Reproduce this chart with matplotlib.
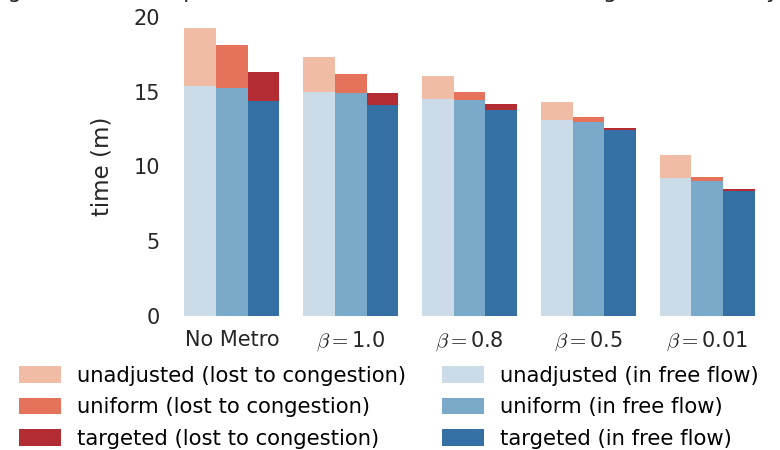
import matplotlib.pyplot as plt
import numpy as np

plt.rcParams['font.family'] = 'DejaVu Sans'
plt.rcParams['mathtext.fontset'] = 'cm'

groups = ['No Metro', r'$\beta=$1.0', r'$\beta=$0.8', r'$\beta=$0.5', r'$\beta=$0.01']
schemes = ['unadjusted', 'uniform', 'targeted']

# total travel time (free flow + lost to congestion), minutes
total = {
    'unadjusted': [19.3, 17.3, 16.05, 14.35, 10.75],
    'uniform':    [18.1, 16.2, 15.0, 13.3, 9.3],
    'targeted':   [16.3, 14.95, 14.2, 12.55, 8.5],
}
# time in free flow, minutes
free = {
    'unadjusted': [15.4, 15.0, 14.5, 13.1, 9.2],
    'uniform':    [15.25, 14.9, 14.45, 13.0, 9.05],
    'targeted':   [14.4, 14.1, 13.8, 12.45, 8.35],
}

red = {'unadjusted': '#f1bca6', 'uniform': '#e5735c', 'targeted': '#b42c33'}
blue = {'unadjusted': '#cbdbe8', 'uniform': '#7aa9c9', 'targeted': '#3470a4'}

fig = plt.figure(figsize=(7.8, 4.5), dpi=100)
ax = fig.add_axes([0.221, 0.298, 0.762, 0.664])

x = np.arange(len(groups))
w = 0.8 / 3
for i, s in enumerate(schemes):
    pos = x + (i - 1) * w
    ax.bar(pos, total[s], width=w, color=red[s], linewidth=0,
           label=s + ' (lost to congestion)')
for i, s in enumerate(schemes):
    pos = x + (i - 1) * w
    ax.bar(pos, free[s], width=w, color=blue[s], linewidth=0,
           label=s + ' (in free flow)')

ax.set_xlim(-0.5, 4.5)
ax.set_ylim(0, 20)
ax.set_yticks([0, 5, 10, 15, 20])
ax.set_xticks(x)
ax.set_xticklabels(groups)
ax.tick_params(axis='both', length=0, labelsize=15, colors='#262626')
ax.tick_params(axis='x', pad=10)
ax.tick_params(axis='y', pad=9)
ax.set_ylabel('time (m)', fontsize=16.5, color='#262626', labelpad=14)
for sp in ax.spines.values():
    sp.set_visible(False)

# title is mostly cropped off the top in the original
fig.text(0.5, 1.004, 'Average travel time split into free flow and time lost to congestion for varying β',
         ha='center', va='baseline', fontsize=16, color='#262626')

fig.legend(loc='lower left', bbox_to_anchor=(0.0, -0.04), ncol=2, frameon=False,
           fontsize=15.2, handlelength=2.0, handleheight=0.85, handletextpad=0.75,
           columnspacing=1.7, labelspacing=0.55)

fig.savefig('out.png', dpi=100)
